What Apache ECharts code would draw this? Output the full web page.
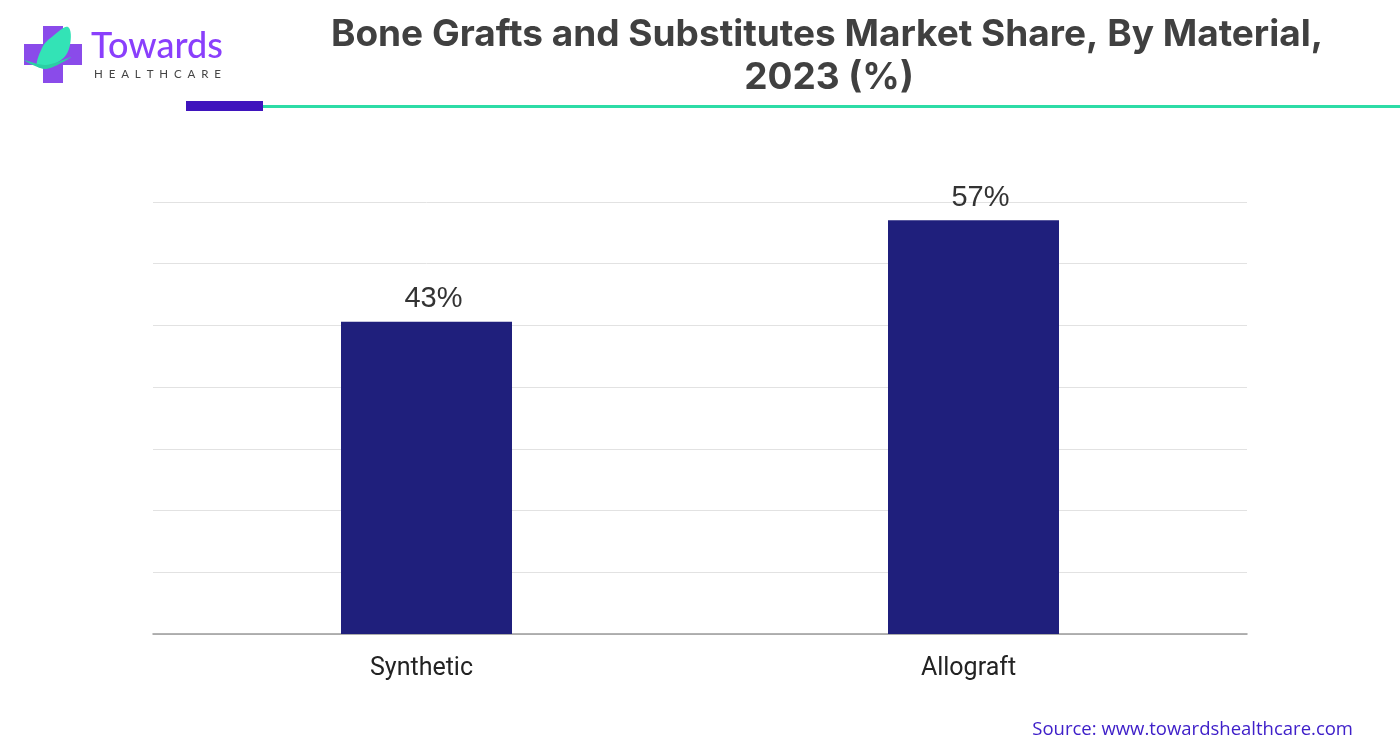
<!DOCTYPE html>
<html>
<head>
<meta charset="utf-8">
<script src="https://cdn.jsdelivr.net/npm/echarts@6/dist/echarts.min.js"></script>
<style>
html,body{margin:0;padding:0;background:#fff;}
#chart{width:1400px;height:751px;}
</style>
</head>
<body>
<div id="chart"></div>
<script>
const categories = ['Synthetic', 'Allograft'];
const shareValues = [43, 57];
const valueLabels = ['43%', '57%'];
const titleLines = ['Bone Grafts and Substitutes Market Share, By Material,', '2023 (%)'];
const sourceText = 'Source: www.towardshealthcare.com';

const chart = echarts.init(document.getElementById('chart'));
chart.setOption({
  backgroundColor: '#ffffff',
  animation: false,
  grid: { left: 153, right: 153, top: 202, bottom: 117 },
  xAxis: {
    type: 'category',
    data: categories,
    axisTick: { show: false },
    axisLine: { show: true, lineStyle: { color: '#9a9a9a', width: 1.5 } },
    axisLabel: { color: '#222222', fontSize: 25, fontFamily: 'Roboto, Arial, sans-serif', margin: 22, padding: [0, 10, 0, 0] }
  },
  yAxis: {
    type: 'value',
    min: 0,
    max: 59.5,
    interval: 8.5,
    axisLabel: { show: false },
    axisLine: { show: false },
    axisTick: { show: false },
    splitLine: { lineStyle: { color: '#e2e2e2', width: 1 } }
  },
  series: [{
    type: 'bar',
    data: shareValues,
    barWidth: 171,
    itemStyle: { color: '#1f1f7c' },
    label: {
      show: true,
      position: 'top',
      distance: 8,
      offset: [7, 0],
      color: '#333333',
      fontSize: 29,
      fontFamily: 'Liberation Sans, Arial, sans-serif',
      formatter: p => valueLabels[p.dataIndex]
    }
  }],
  graphic: [
    { type: 'text', style: { text: titleLines[0], x: 827, y: 35, fill: '#404040', font: 'bold 37px Inter, Roboto, sans-serif', textAlign: 'center', textVerticalAlign: 'middle' } },
    { type: 'text', style: { text: titleLines[1], x: 829, y: 78, fill: '#404040', font: 'bold 37px Inter, Roboto, sans-serif', textAlign: 'center', textVerticalAlign: 'middle' } },
    { type: 'rect', shape: { x: 263, y: 105, width: 1137, height: 3 }, style: { fill: '#2ddca6' } },
    { type: 'rect', shape: { x: 186, y: 101, width: 77, height: 10 }, style: { fill: '#3f14bd' } },
    { type: 'rect', shape: { x: 43, y: 26, width: 20, height: 57 }, style: { fill: '#8a4bea' } },
    { type: 'rect', shape: { x: 24, y: 44, width: 58, height: 21 }, style: { fill: '#8a4bea' } },
    { type: 'polygon', shape: { points: [[38, 67], [42, 48], [53, 36], [68, 27], [70, 45], [61, 60]], smooth: 0.4 }, style: { fill: '#33e3b6' } },
    { type: 'polygon', shape: { points: [[24, 60], [46, 69], [71, 57], [46, 65]], smooth: 0.3 }, style: { fill: '#2bcfa4' } },
    { type: 'text', style: { text: 'Towards', x: 91, y: 64, fill: '#8a3ffc', font: '500 36px Lato, "Noto Sans", sans-serif', textVerticalAlign: 'bottom' } },
    { type: 'text', style: { text: 'H  E  A  L  T  H  C  A  R  E', x: 94, y: 74, fill: '#444444', font: '11.5px Lato, "Noto Sans", sans-serif', textVerticalAlign: 'middle' } },
    { type: 'text', style: { text: sourceText, x: 1353, y: 730, fill: '#3f20c9', font: '18.5px "Open Sans", "Noto Sans", sans-serif', textAlign: 'right', textVerticalAlign: 'middle' } }
  ]
});
</script>
</body>
</html>
